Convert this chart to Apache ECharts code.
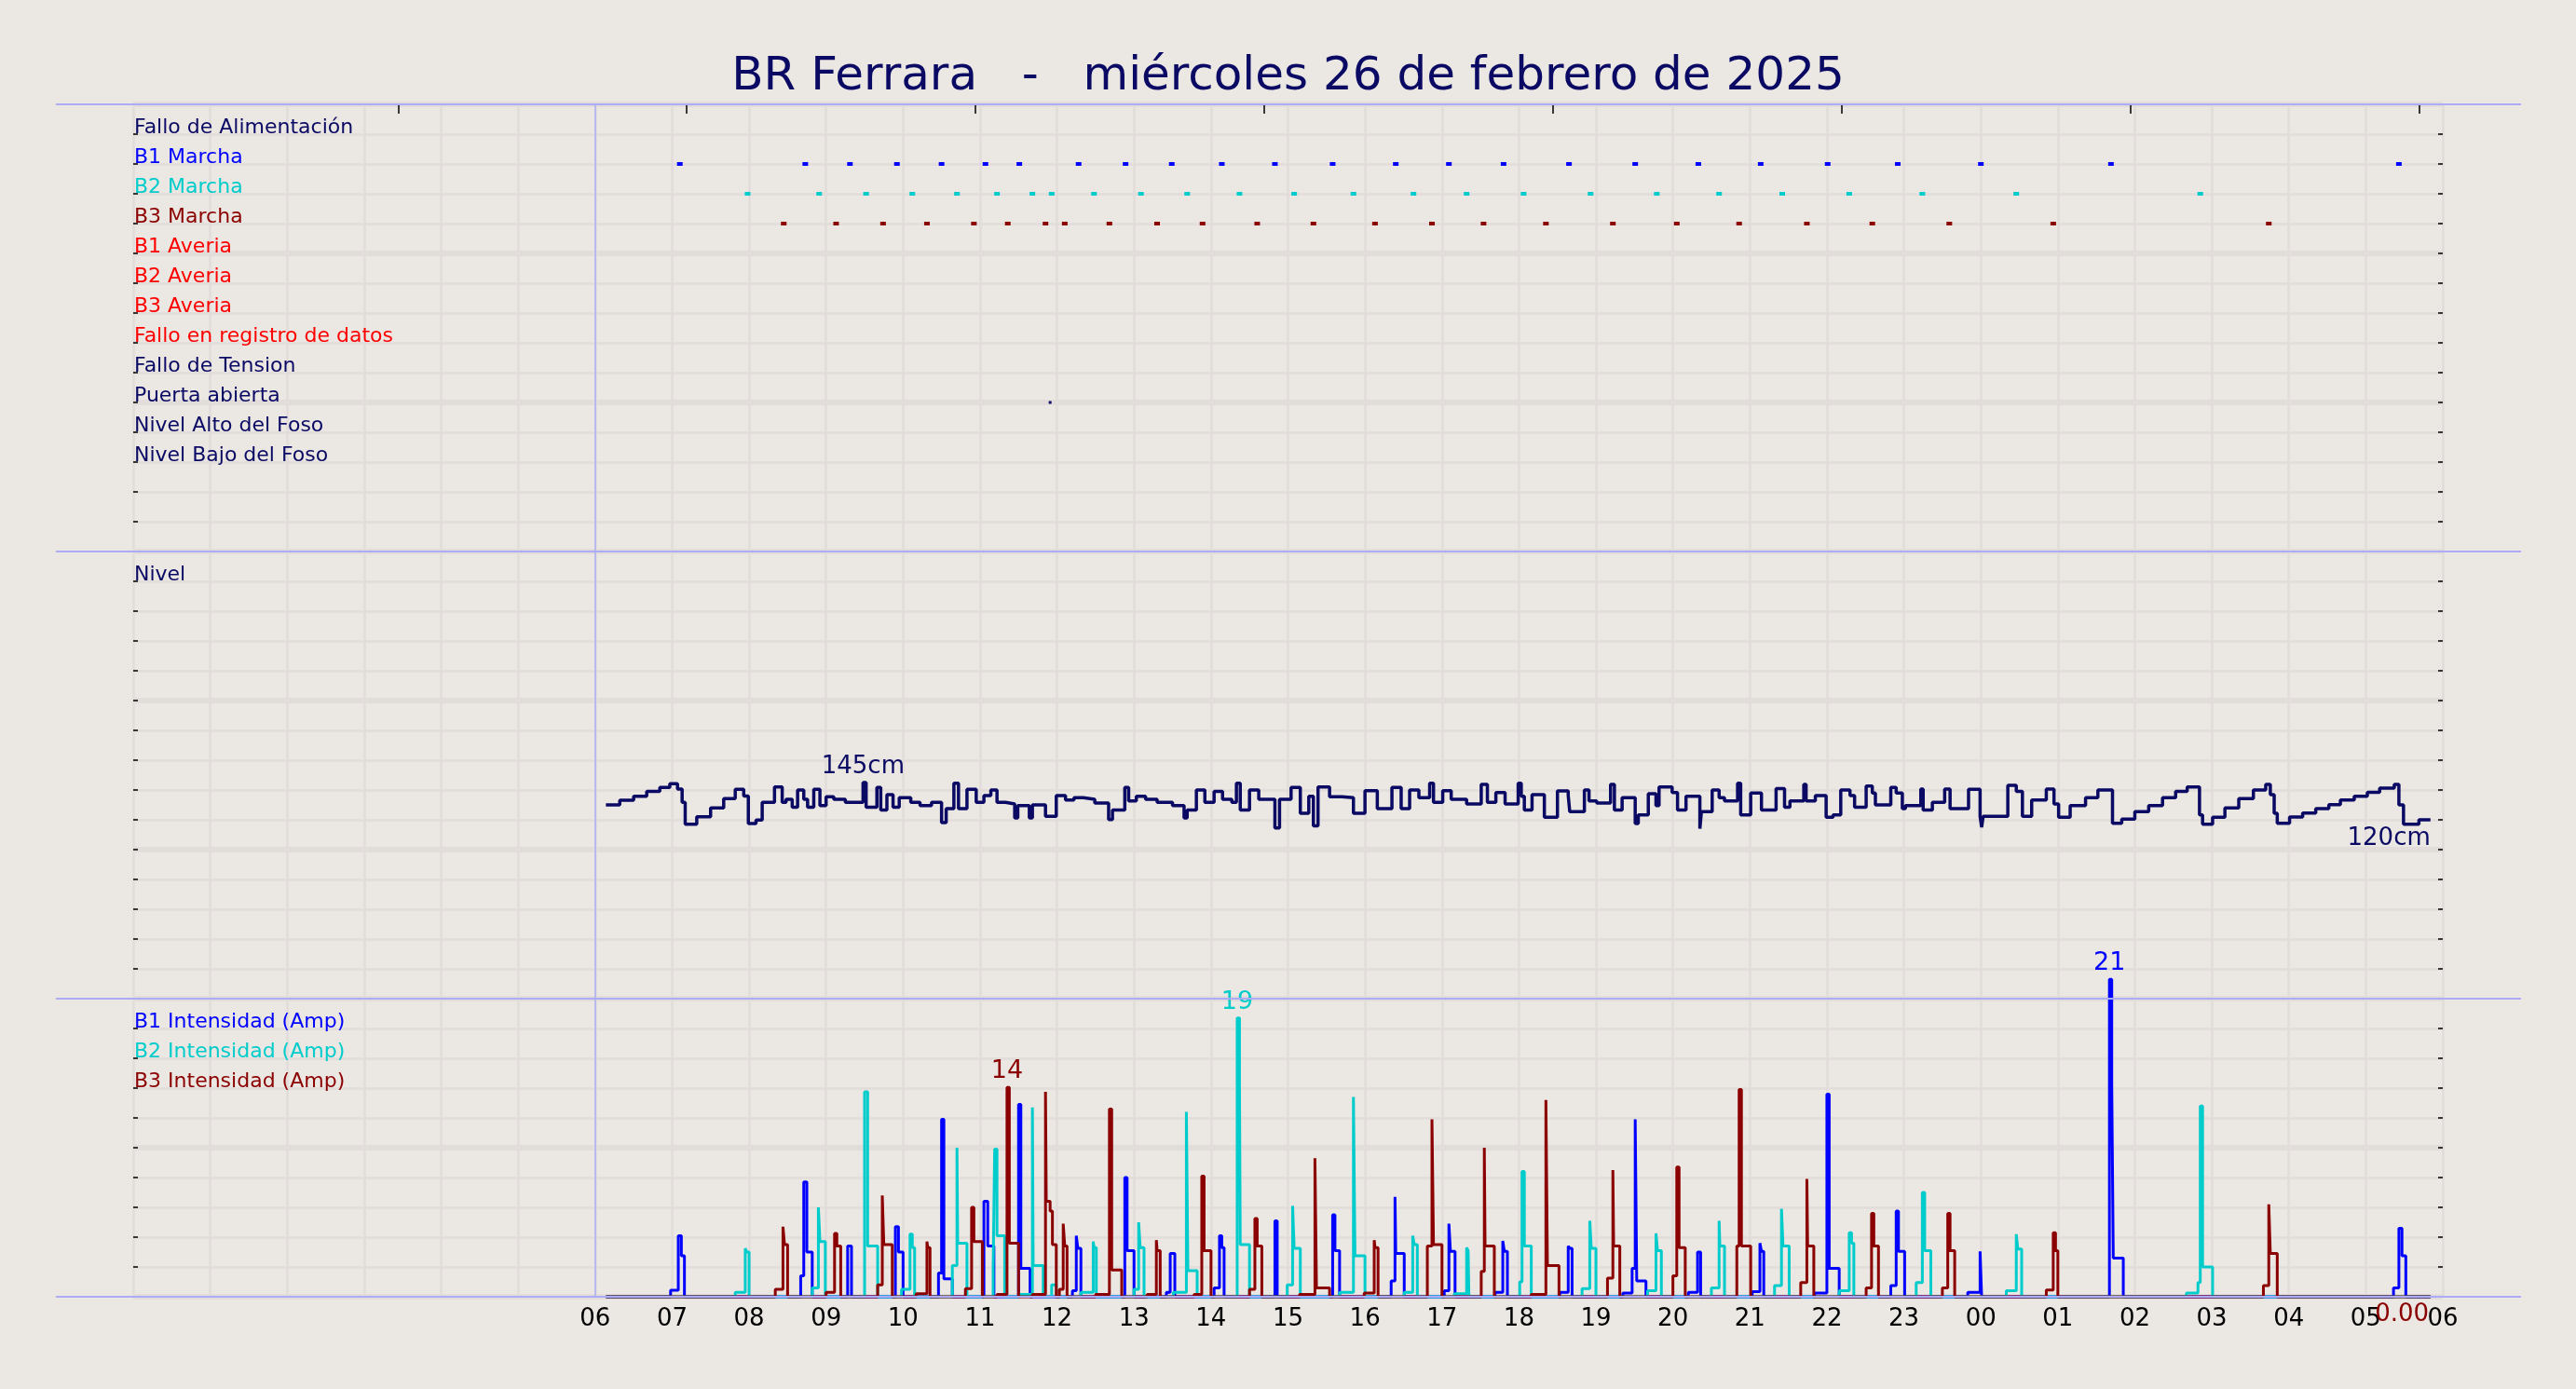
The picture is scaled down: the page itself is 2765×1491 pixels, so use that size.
<!DOCTYPE html>
<html><head><meta charset="utf-8">
<script src="https://cdn.jsdelivr.net/npm/echarts@6/dist/echarts.min.js"></script>
<style>html,body{margin:0;padding:0;background:#ebe7e2;} #c{width:2765px;height:1491px;}</style>
</head><body><div id="c"></div>
<script>
// ---------------- DATA ----------------
const titleText = 'BR Ferrara   -   miércoles 26 de febrero de 2025';
const hourTicks = [6,7,8,9,10,11,12,13,14,15,16,17,18,19,20,21,22,23,24,25,26,27,28,29,30];
const topTickValues = [3.44, 7.19, 10.94, 14.69, 18.44, 22.19, 25.94, 29.69];
const dayStartHour = 6;

const statusLabels = ['Fallo de Alimentación','B1 Marcha','B2 Marcha','B3 Marcha','B1 Averia','B2 Averia','B3 Averia','Fallo en registro de datos','Fallo de Tension','Puerta abierta','Nivel Alto del Foso','Nivel Bajo del Foso'];
const levelLabel = 'Nivel';
const currentLabels = ['B1 Intensidad (Amp)','B2 Intensidad (Amp)','B3 Intensidad (Amp)'];

const b1MarchaTimes = [7.10, 8.73, 9.31, 9.92, 10.50, 11.07, 11.51, 12.28, 12.89, 13.49, 14.14, 14.83, 15.58, 16.40, 17.09, 17.80, 18.65, 19.51, 20.33, 21.14, 22.01, 22.92, 24.00, 25.69, 29.43];
const b2MarchaTimes = [7.98, 8.91, 9.52, 10.12, 10.70, 11.22, 11.68, 11.93, 12.48, 13.09, 13.69, 14.37, 15.08, 15.85, 16.63, 17.32, 18.06, 18.93, 19.79, 20.60, 21.42, 22.29, 23.24, 24.46, 26.85];
const b3MarchaTimes = [8.45, 9.13, 9.74, 10.31, 10.92, 11.36, 11.85, 12.10, 12.68, 13.30, 13.89, 14.60, 15.33, 16.13, 16.87, 17.54, 18.35, 19.22, 20.05, 20.86, 21.74, 22.59, 23.59, 24.94, 27.74];
const puertaTimes = [11.91];

const levelData = [
[6.14,130],[6.32,133.1],[6.50,135.8],[6.67,139],[6.84,141.7],[6.97,144.2],[7.07,140.6],[7.13,131.7],[7.17,117.1],[7.32,122.1],[7.50,127.9],[7.67,134.2],[7.82,140.4],[7.93,136],[7.99,117.5],[8.09,119.8],[8.17,131.7],[8.33,142.1],[8.43,131.7],[8.48,133.8],[8.56,128.5],[8.63,140],[8.71,133.8],[8.76,128.5],[8.84,140.4],[8.92,129.6],[9.0,135.4],[9.10,133.8],[9.25,131.7],[9.48,145],[9.52,128.5],[9.66,141.7],[9.71,126.5],[9.79,136.9],[9.87,128.5],[9.95,134.8],[10.1,131.7],[10.22,129.6],[10.37,131.7],[10.5,118.1],[10.56,127.5],[10.66,144.5],[10.72,127.5],[10.83,140.4],[10.95,131.7],[11.05,136.3],[11.14,140],[11.22,131.7],[11.33,130.6],[11.45,121.3],[11.49,129.6],[11.64,121.3],[11.68,130],[11.85,122.3],[11.99,136.3],[12.11,133.3],[12.22,134.8],[12.34,133.8],[12.49,131.3],[12.67,120.2],[12.72,126.5],[12.88,141.7],[12.93,132.7],[13.03,135.8],[13.15,133.8],[13.30,131.7],[13.50,129.6],[13.65,121.3],[13.69,126.5],[13.81,140],[13.92,131.7],[14.04,139],[14.15,133.8],[14.27,131.7],[14.33,144.5],[14.38,126.5],[14.50,140],[14.62,133.8],[14.83,114.6],[14.89,133.8],[15.04,141.7],[15.16,124.4],[15.27,135.8],[15.33,116],[15.39,142.1],[15.54,135.4],[15.70,134.8],[15.85,124.4],[16.00,139.6],[16.16,127.5],[16.35,141.7],[16.47,127.5],[16.58,140],[16.70,134.8],[16.84,144.5],[16.89,131.7],[17.01,139.6],[17.12,133.8],[17.32,130.6],[17.51,143.8],[17.59,131.7],[17.70,138.3],[17.82,130.6],
[17.99,144.6],[18.03,135.8],[18.07,126.5],[18.17,136.9],[18.33,121.7],[18.50,139.4],[18.64,136.3],[18.66,125.4],[18.85,140],[18.91,132.7],[19.01,131.3],[19.19,143.8],[19.24,126.5],[19.34,134.8],[19.51,117.5],[19.55,123.3],[19.68,137.5],[19.78,129.6],[19.82,142.1],[19.99,138.3],[20.06,126.5],[20.17,135.8],[20.35,114],[20.37,125.4],[20.51,140],[20.60,134.8],[20.67,132.7],[20.84,144.6],[20.88,123.3],[21.01,137.9],[21.15,126.5],[21.34,141],[21.45,128.5],[21.52,132.7],[21.70,143.8],[21.73,132.7],[21.85,136.3],[21.99,121.7],[22.08,123.3],[22.18,140],[22.30,136.3],[22.36,128.5],[22.51,142.7],[22.59,137.9],[22.63,130],[22.83,141.7],[22.90,137.9],[22.98,127.5],[23.02,129.6],[23.22,140.6],[23.25,126.5],[23.37,131.7],[23.53,140.6],[23.60,127.5],[23.84,140.4],[23.99,122.3],[24.01,115],[24.03,122.3],[24.35,143.1],[24.46,139],[24.54,122.3],[24.66,133.3],[24.85,140.6],[24.95,130.6],[25.01,121.7],[25.16,129.6],[25.36,134.8],[25.52,140],[25.71,117.7],[25.83,120.4],[26.00,125.4],[26.18,129.6],[26.36,134.8],[26.53,139],[26.68,142.1],[26.84,123.3],[26.88,117.1],[27.01,121.7],[27.17,127.9],[27.35,134.2],[27.54,140],[27.70,143.8],[27.76,136.9],[27.81,124.4],[27.85,117.7],[28.01,121.9],[28.18,124.6],[28.35,127.5],[28.52,130.2],[28.67,133.3],[28.85,135.8],[29.02,138.5],[29.18,141.2],[29.37,143.8],[29.43,130],[29.49,117],[29.69,120],[29.84,120]
];

const b1Pulses = [
 [[6.98,0.44],[7.08,4.1],[7.12,2.75],[7.16,0]],
 [[8.67,1.4],[8.71,7.7],[8.75,3.0],[8.82,0]],
 [[9.28,3.4],[9.33,0]],
 [[9.90,4.7],[9.94,3.0],[10.00,0]],
 [[10.46,1.6],[10.50,11.9],[10.53,1.2],[10.64,0]],
 [[11.05,6.4],[11.10,3.4],[11.18,0]],
 [[11.50,12.9],[11.53,1.9],[11.65,0]],
 [[12.20,0.4],[12.25,4.1],[12.27,3.25],[12.31,0]],
 [[12.88,8.0],[12.91,3.1],[13.00,0]],
 [[13.42,0.3],[13.47,2.9],[13.53,0]],
 [[14.04,0.6],[14.11,4.1],[14.14,3.3],[14.17,0]],
 [[14.83,5.1],[14.86,0]],
 [[15.58,5.5],[15.61,3.1],[15.67,0]],
 [[16.34,1.06],[16.39,6.7],[16.40,2.9],[16.51,0]],
 [[17.03,0.4],[17.09,4.9],[17.11,3.05],[17.17,0]],
 [[17.69,0.3],[17.79,3.75],[17.81,3.05],[17.85,0]],
 [[18.53,0.3],[18.64,3.4],[18.66,3.25],[18.69,0]],
 [[19.35,0.25],[19.47,1.9],[19.51,11.9],[19.53,1.06],[19.65,0]],
 [[20.20,0.3],[20.32,3.0],[20.36,0]],
 [[21.03,0.35],[21.13,3.6],[21.15,3.05],[21.18,0]],
 [[21.84,0.25],[22.00,13.6],[22.03,1.9],[22.16,0]],
 [[22.83,0.75],[22.90,5.75],[22.93,3.05],[23.01,0]],
 [[23.83,0.3],[23.99,3.05],[24.01,0]],
 [[25.67,21.3],[25.70,14.3],[25.72,2.6],[25.85,0]],
 [[29.36,0.6],[29.43,4.6],[29.47,2.75],[29.52,0]]
];
const b2Pulses = [
 [[7.82,0.3],[7.95,3.25],[7.97,3.0],[8.00,0]],
 [[8.82,0.6],[8.90,6.0],[8.92,3.7],[8.99,0]],
 [[9.50,13.75],[9.54,3.4],[9.67,0]],
 [[9.98,0.5],[10.09,4.2],[10.12,3.3],[10.15,0]],
 [[10.64,2.1],[10.70,10.0],[10.71,3.6],[10.83,0]],
 [[11.17,1.9],[11.19,9.9],[11.22,4.1],[11.32,0]],
 [[11.51,0.15],[11.68,12.7],[11.69,2.1],[11.82,0]],
 [[11.93,0.8],[11.99,0]],
 [[12.31,0.3],[12.47,3.7],[12.48,3.3],[12.51,0]],
 [[13.00,0.5],[13.06,5.0],[13.08,3.3],[13.13,0]],
 [[13.51,0.3],[13.68,12.4],[13.70,1.75],[13.82,0]],
 [[14.34,18.7],[14.37,14.0],[14.38,3.5],[14.50,0]],
 [[14.99,0.8],[15.06,6.1],[15.08,3.25],[15.16,0]],
 [[15.67,0.3],[15.85,13.4],[15.87,2.75],[16.00,0]],
 [[16.51,0.3],[16.62,4.1],[16.64,3.5],[16.68,0]],
 [[17.16,0.2],[17.32,3.3],[17.34,3.1],[17.35,0]],
 [[18.01,1.0],[18.04,8.4],[18.07,3.4],[18.16,0]],
 [[18.82,0.55],[18.92,5.1],[18.94,3.25],[19.00,0]],
 [[19.67,0.4],[19.78,4.25],[19.80,3.1],[19.85,0]],
 [[20.50,0.6],[20.60,5.1],[20.61,3.4],[20.67,0]],
 [[21.32,0.75],[21.41,5.9],[21.43,3.4],[21.51,0]],
 [[22.16,0.4],[22.29,4.3],[22.32,3.6],[22.35,0]],
 [[23.16,0.95],[23.24,7.0],[23.27,3.1],[23.35,0]],
 [[24.33,0.4],[24.46,4.2],[24.48,3.2],[24.53,0]],
 [[26.67,0.25],[26.82,0.95],[26.85,12.8],[26.88,2.0],[27.01,0]]
];
const b3Pulses = [
 [[8.34,0.5],[8.44,4.7],[8.46,3.5],[8.50,0]],
 [[9.00,0.3],[9.11,4.25],[9.14,3.4],[9.19,0]],
 [[9.67,0.8],[9.73,6.8],[9.75,3.5],[9.86,0]],
 [[10.17,0.2],[10.31,3.7],[10.32,3.3],[10.35,0]],
 [[10.81,0.55],[10.89,6.0],[10.92,3.7],[11.03,0]],
 [[11.22,0.15],[11.35,14.05],[11.38,3.6],[11.50,0]],
 [[11.68,0.15],[11.85,13.75],[11.86,6.4],[11.91,5.75],[11.94,3.5],[11.99,0]],
 [[12.03,0.5],[12.08,4.9],[12.10,3.4],[12.13,0]],
 [[12.50,0.15],[12.68,12.6],[12.71,1.8],[12.84,0]],
 [[13.17,0.15],[13.29,3.8],[13.30,3.1],[13.34,0]],
 [[13.78,0.15],[13.88,8.1],[13.91,3.1],[14.00,0]],
 [[14.50,0.5],[14.57,5.25],[14.60,3.4],[14.66,0]],
 [[15.15,0.15],[15.35,9.3],[15.37,0.6],[15.54,0]],
 [[15.99,0.25],[16.12,3.8],[16.13,3.3],[16.17,0]],
 [[16.81,3.4],[16.87,11.9],[16.89,3.5],[17.00,0]],
 [[17.51,1.7],[17.55,10.0],[17.56,3.4],[17.68,0]],
 [[18.16,0.15],[18.35,13.2],[18.37,2.1],[18.52,0]],
 [[19.15,1.25],[19.22,8.5],[19.23,3.4],[19.31,0]],
 [[20.00,1.4],[20.05,8.7],[20.08,3.3],[20.16,0]],
 [[20.83,3.4],[20.86,13.9],[20.89,3.4],[21.01,0]],
 [[21.66,0.95],[21.74,7.9],[21.75,3.4],[21.83,0]],
 [[22.51,0.6],[22.58,5.6],[22.61,3.4],[22.67,0]],
 [[23.50,0.6],[23.57,5.6],[23.60,3.1],[23.66,0]],
 [[24.85,0.45],[24.94,4.3],[24.97,3.1],[25.00,0]],
 [[27.67,0.75],[27.74,6.2],[27.76,2.9],[27.85,0]]
];
const b3LastReading = [29.47, 0];

// ---------------- STYLE / LAYOUT ----------------
const FONT = 'DejaVu Sans';
const BG = '#ebe7e2';
const GRIDC = '#e2dddb';
const NAVY = '#0a0a64';
const SEP = '#acacf6';
const C_B1 = '#0000ff', C_B2 = '#00cccc', C_B3 = '#8b0000', C_RED = '#ff0000';
const statusColors = [NAVY, C_B1, C_B2, C_B3, C_RED, C_RED, C_RED, C_RED, NAVY, NAVY, NAVY, NAVY];
const currentColors = [C_B1, C_B2, C_B3];

const PLOT_L = 143, PLOT_R = 143;
const PANEL_TOP = [112, 592, 1072];
const PANEL_H = [480, 480, 320];
const PLOT_BOTTOM = 1392;
const SEP_X1 = 60, SEP_X2 = 2706;

const STATUS_TOP_ROW = 14;
const statusRowValue = i => STATUS_TOP_ROW - i;
const levelLabelValue = 280;
const currentLabelValues = [18, 16, 14];

function pad2(n){ n = Math.round(n) % 24; return (n < 10 ? '0' : '') + n; }

function xAx(gi, extra) {
  return Object.assign({
    gridIndex: gi, type: 'value', min: 0, max: 30, interval: 1,
    axisLine: {show: false, onZero: false}, axisTick: {show: false}, axisLabel: {show: false},
    splitLine: {show: true, lineStyle: {color: GRIDC, width: 2.5}}
  }, extra || {});
}
function yAx(gi, max, interval, side, labelValues, labelText, labelColor) {
  const tickStyle = {color: '#000', width: 1.5};
  const o = {
    gridIndex: gi, type: 'value', min: 0, max: max, interval: interval, position: side,
    axisLine: {show: false, onZero: false},
    axisTick: {show: true, inside: true, length: 5, lineStyle: tickStyle},
    minorTick: {show: true, splitNumber: 5, length: 5, lineStyle: tickStyle},
    splitLine: {show: side === 'left', lineStyle: {color: GRIDC, width: 6}},
    minorSplitLine: {show: side === 'left', lineStyle: {color: GRIDC, width: 2.5}},
    axisLabel: {show: false}
  };
  if (labelValues) {
    o.axisLabel = {
      show: true, inside: true, customValues: labelValues,
      formatter: v => labelText(Number(v)),
      color: v => labelColor(Number(v)),
      fontFamily: FONT, fontSize: 22, margin: 1,
      verticalAlign: 'bottom', lineHeight: 14, align: 'left'
    };
  }
  return o;
}

const statusVals = statusLabels.map((_, i) => statusRowValue(i));
const statusText = v => statusLabels[STATUS_TOP_ROW - v];
const statusColor = v => statusColors[STATUS_TOP_ROW - v];
const curText = v => currentLabels[currentLabelValues.indexOf(v)];
const curColor = v => currentColors[currentLabelValues.indexOf(v)];

const vLine = {
  silent: true, symbol: ['none','none'], label: {show: false},
  lineStyle: {color: SEP, width: 1.5, type: 'solid'},
  data: [{xAxis: dayStartHour}]
};

function buildCurrent(pulses) {
  const pts = [[levelData[0][0], 0]];
  pulses.forEach(p => p.forEach(pt => pts.push(pt)));
  pts.push([levelData[levelData.length - 1][0], 0]);
  return pts;
}
function peakOf(pulses) {
  let best = null;
  pulses.forEach(p => p.forEach(pt => { if (!best || pt[1] > best[1]) best = pt; }));
  return best;
}

function marchaSeries(name, times, row, color, size, withLine) {
  const s = {
    name: name, type: 'scatter', xAxisIndex: 0, yAxisIndex: 0,
    data: times.map(t => [t, row]), symbol: 'rect', symbolSize: size,
    itemStyle: {color: color, opacity: 1}, silent: true, z: 3
  };
  if (withLine) s.markLine = vLine;
  return s;
}
function peakLabelSeries(pulses, color) {
  return {
    type: 'scatter', xAxisIndex: 2, yAxisIndex: 4, clip: false, silent: true, z: 5,
    data: [peakOf(pulses)], symbol: 'circle', symbolSize: 1,
    itemStyle: {color: 'rgba(0,0,0,0)', opacity: 1},
    label: {show: true, position: 'top', distance: 3, color: color, opacity: 1, fontFamily: FONT, fontSize: 27,
      formatter: p => String(Math.round(p.value[1]))}
  };
}

const lastLevel = levelData[levelData.length - 1];

const option = {
  animation: false,
  backgroundColor: BG,
  textStyle: {fontFamily: FONT},
  title: {
    text: titleText, left: 'center', top: 58, padding: 0,
    textStyle: {fontFamily: FONT, fontSize: 50, fontWeight: 'normal', color: NAVY}
  },
  grid: PANEL_TOP.map((t, i) => ({left: PLOT_L, right: PLOT_R, top: t, height: PANEL_H[i], outerBoundsMode: 'none'})),
  xAxis: [
    xAx(0), xAx(1),
    xAx(2, {axisLabel: {show: true, customValues: hourTicks, formatter: v => pad2(Number(v)),
      color: '#000', fontFamily: FONT, fontSize: 26, margin: 11}}),
    {gridIndex: 0, type: 'value', min: 0, max: 30, position: 'top',
     axisLine: {show: false, onZero: false}, axisLabel: {show: false}, splitLine: {show: false},
     axisTick: {show: true, inside: true, length: 10, customValues: topTickValues, lineStyle: {color: '#000', width: 1.5}}}
  ],
  yAxis: [
    yAx(0, 15, 5, 'left', statusVals, statusText, statusColor),
    yAx(0, 15, 5, 'right'),
    yAx(1, 300, 100, 'left', [levelLabelValue], () => levelLabel, () => NAVY),
    yAx(1, 300, 100, 'right'),
    yAx(2, 20, 10, 'left', currentLabelValues, curText, curColor),
    yAx(2, 20, 10, 'right')
  ],
  series: [
    marchaSeries('B1 Marcha', b1MarchaTimes, statusRowValue(1), C_B1, [6, 4], true),
    marchaSeries('B2 Marcha', b2MarchaTimes, statusRowValue(2), C_B2, [6, 4]),
    marchaSeries('B3 Marcha', b3MarchaTimes, statusRowValue(3), C_B3, [6, 4]),
    marchaSeries('Puerta abierta', puertaTimes, statusRowValue(9), NAVY, [3, 3]),
    {
      name: 'Nivel', type: 'line', xAxisIndex: 1, yAxisIndex: 2, data: levelData, step: 'end',
      showSymbol: false, symbol: 'none', silent: true, lineStyle: {color: NAVY, width: 3.5}, z: 3,
      markLine: vLine,
      markPoint: {
        symbol: 'circle', symbolSize: 1, itemStyle: {color: 'rgba(0,0,0,0)'},
        label: {show: true, color: NAVY, fontFamily: FONT, fontSize: 26},
        data: [
          {type: 'max', name: 'max', label: {position: 'top', distance: 3, formatter: p => Math.round(p.value) + 'cm'}},
          {coord: lastLevel, value: lastLevel[1], label: {position: 'bottom', align: 'right', distance: 7, formatter: p => Math.round(p.value) + 'cm'}}
        ]
      }
    },
    {
      name: 'B1 Intensidad', type: 'line', xAxisIndex: 2, yAxisIndex: 4, data: buildCurrent(b1Pulses), step: 'end',
      showSymbol: false, symbol: 'none', silent: true, clip: false, lineStyle: {color: C_B1, width: 3}, z: 3,
      markLine: vLine
    },
    {
      name: 'B2 Intensidad', type: 'line', xAxisIndex: 2, yAxisIndex: 4, data: buildCurrent(b2Pulses), step: 'end',
      showSymbol: false, symbol: 'none', silent: true, clip: false, lineStyle: {color: C_B2, width: 3}, z: 3
    },
    {
      name: 'B3 Intensidad', type: 'line', xAxisIndex: 2, yAxisIndex: 4, data: buildCurrent(b3Pulses), step: 'end',
      showSymbol: false, symbol: 'none', silent: true, clip: false, lineStyle: {color: C_B3, width: 3}, z: 3,
      markPoint: {
        symbol: 'circle', symbolSize: 1, itemStyle: {color: 'rgba(0,0,0,0)'},
        data: [{coord: b3LastReading, value: b3LastReading[1],
          label: {show: true, position: 'bottom', distance: 6, color: C_B3, fontFamily: FONT, fontSize: 26,
            formatter: p => Number(p.value).toFixed(2)}}]
      }
    },
    peakLabelSeries(b1Pulses, C_B1),
    peakLabelSeries(b2Pulses, C_B2),
    peakLabelSeries(b3Pulses, C_B3)
  ],
  graphic: PANEL_TOP.concat([PLOT_BOTTOM]).map(y => ({
    type: 'line', silent: true, z: 100,
    shape: {x1: SEP_X1, y1: y, x2: SEP_X2, y2: y},
    style: {stroke: SEP, lineWidth: 2}
  }))
};

const chart = echarts.init(document.getElementById('c'), null, {renderer: 'canvas', width: 2765, height: 1491});
chart.setOption(option);
</script></body></html>
